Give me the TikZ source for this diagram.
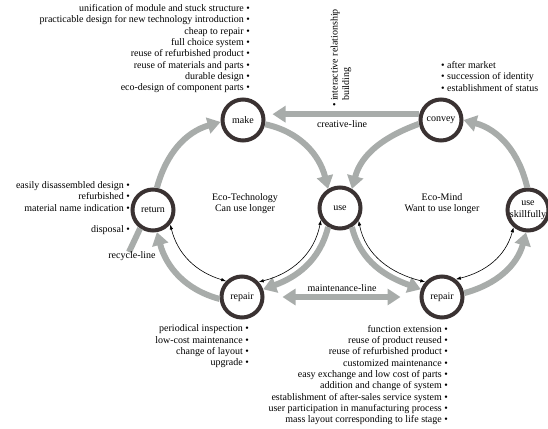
\documentclass[tikz,border=0pt]{standalone}
\usepackage{fontspec}
\setmainfont{Liberation Serif}
\usetikzlibrary{arrows.meta}
\definecolor{ring}{RGB}{58,50,50}
\definecolor{flow}{RGB}{168,172,170}
\newcommand{\bl}{•}
\begin{document}
\begin{tikzpicture}[x=1pt,y=1pt,
  every node/.style={font=\fontsize{10}{11.3}\selectfont},
  circ/.style={circle,draw=ring,line width=4pt,minimum size=41pt,inner sep=0pt,fill=white},
  flowarrow/.style={draw=flow,line width=6pt,-{Triangle[length=13pt,width=16pt]}},
  flowboth/.style={draw=flow,line width=6pt,{Triangle[length=13pt,width=16pt]}-{Triangle[length=13pt,width=16pt]}},
  flowline/.style={draw=flow,line width=6pt},
  thinarrow/.style={draw=black,line width=0.6pt,{Latex[length=5pt,width=3.5pt]}-{Latex[length=5pt,width=3.5pt]}},
  list/.style={inner sep=0pt}]
\useasboundingbox (0,0) rectangle (548,428);

% circles
\node[circ] (make) at (243,308) {make};
\node[circ] (return) at (153,218) {return};
\node[circ] (use) at (340,220) {use};
\node[circ] (repairL) at (242,131) {repair};
\node[circ] (repairR) at (442,131) {repair};
\node[circ] (convey) at (441,308) {convey};
\node[circ] (skill) at (528,218) {};
\node[align=center,inner sep=0pt,font=\fontsize{10}{12}\selectfont] (skilltxt) at (skill) {use\\skillfully};

% gray flows, left loop
\draw[flowarrow] (return.80) to[out=75,in=196] (make.185);
\draw[flowarrow] (make.-11) to[out=-12,in=104] (use.122);
\draw[flowarrow] (use.-122) to[out=-104,in=20] (repairL.20);
\draw[flowarrow] (repairL.185) to[out=165,in=-75] (return.-80);
% gray flows, right loop
\draw[flowarrow] (use.-58) to[out=-76,in=160] (repairR.160);
\draw[flowarrow] (repairR.10) to[out=15,in=-105] (skill.-95);
\draw[flowarrow] (skill.92) to[out=103,in=-15] (convey.0);
\draw[flowarrow] (convey.190) to[out=200,in=75] (use.58);

% straight lines
\coordinate (rc) at (129,176);
\draw[flowline] (rc) -- (return.-125);
\draw[flowarrow,shorten >=7pt] (convey.165) -- (convey.165 -| make.east);
\draw[flowboth,shorten <=18pt,shorten >=19pt] (repairL) -- (repairR);

% thin double arrows
\draw[thinarrow] (return.-40) to[out=-76,in=163] (repairL.135);
\draw[thinarrow] (repairL.42) to[out=14,in=-101] (use.-148);
\draw[thinarrow] (use.-34) to[out=-79,in=166] (repairR.138);
\draw[thinarrow] (repairR.52) to[out=14,in=-105] (skill.-130);

% center labels
\node[align=center] (ecot) at (245,224.5) {Eco-Technology\\Can use longer};
\node[align=center] (ecom) at (442,224.5) {Eco-Mind\\Want to use longer};
\node (creative) at (342,304) {creative-line};
\node (maint) at (342,140) {maintenance-line};
\node (recycle) at (132,172) {recycle-line};
\node[rotate=90,align=left] (inter) at (341,370) {\bl{} interactive relationship\\\phantom{\bl{} }building};

% lists
\node[list,align=right,anchor=east] (mlist) at (250,379.2) {unification of module and stuck structure \bl\\
practicable design for new technology introduction \bl\\
cheap to repair \bl\\
full choice system \bl\\
reuse of refurbished product \bl\\
reuse of materials and parts \bl\\
durable design \bl\\
eco-design of component parts \bl};
\node[list,align=left,anchor=west] (clist) at (441,351.5) {\bl{} after market\\
\bl{} succession of identity\\
\bl{} establishment of status};
\node[list,align=right,anchor=east] (rlist) at (130,231.5) {easily disassembled design \bl\\
refurbished \bl\\
material name indication \bl};
\node[list,anchor=east] (disp) at (130,198) {disposal \bl};
\node[list,align=right,anchor=east] (rllist) at (249,81.5) {periodical inspection \bl\\
low-cost maintenance \bl\\
change of layout \bl\\
upgrade \bl};
\node[list,align=right,anchor=east] (rrlist) at (448,53) {function extension \bl\\
reuse of product reused \bl\\
reuse of refurbished product \bl\\
customized maintenance \bl\\
easy exchange and low cost of parts \bl\\
addition and change of system \bl\\
establishment of after-sales service system \bl\\
user participation in manufacturing process \bl\\
mass layout corresponding to life stage \bl};
\end{tikzpicture}
\end{document}
